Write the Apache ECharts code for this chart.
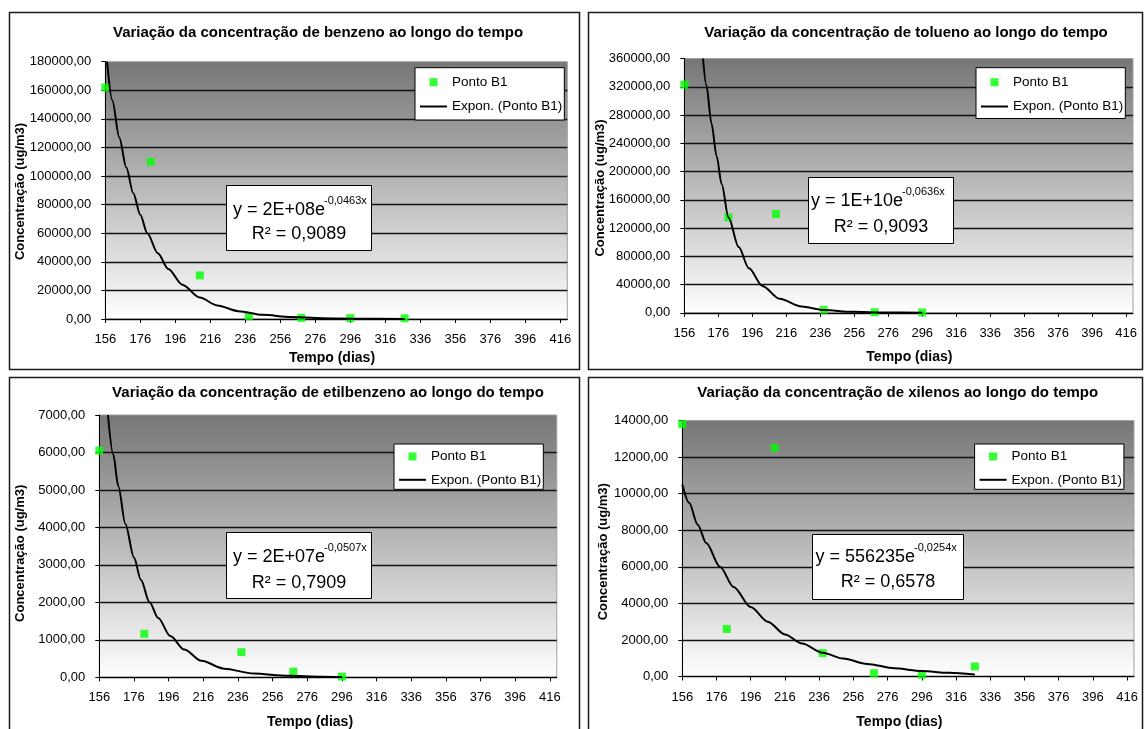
<!DOCTYPE html>
<html><head><meta charset="utf-8">
<script src="https://cdn.jsdelivr.net/npm/echarts@6/dist/echarts.min.js"></script>
<style>html,body{margin:0;padding:0;background:#fff}#c{width:1146px;height:729px}</style>
</head><body><div id="c"></div>
<script>
// ---------- data ----------
const xTickLabels = [156,176,196,216,236,256,276,296,316,336,356,376,396,416];

// Benzeno
const benzenoDays = [156,182,210,238,268,296,327];
const benzenoConc = [162000,110000,30500,2000,800,600,500];
const benzenoTrendDays = [157,160,164,168,172,176,180,186,192,200,210,220,232,246,262,280,300,327];
const benzenoTrendConc = [180000,153000,127000,106000,88000,73000,60000,46000,35000,24000,15000,9500,5500,2900,1400,600,250,80];

// Tolueno
const toluenoDays = [156,182,210,238,268,296];
const toluenoConc = [323000,135000,140000,4300,800,500];
const toluenoTrendDays = [167,169,172,175,178,182,188,194,202,212,225,238,255,275,296];
const toluenoTrendConc = [360000,322000,268000,222000,182000,135000,93000,63000,38000,20000,9000,4000,1400,400,120];

// Etilbenzeno
const etilDays = [156,182,238,268,296];
const etilConc = [6050,1160,670,150,20];
const etilTrendDays = [161,164,167,171,176,180,185,190,197,205,215,228,245,265,285,296];
const etilTrendConc = [7000,5950,5100,4100,3200,2600,2000,1580,1100,740,440,230,100,40,15,8];

// Xilenos
const xilDays = [156,182,210,238,268,296,327];
const xilConc = [13800,2600,12500,1280,180,100,550];
const xilTrendDays = [156,160,165,170,178,186,196,206,216,226,238,250,264,280,296,312,327];
const xilTrendConc = [10500,9500,8300,7300,6000,4900,3800,3000,2300,1800,1300,980,690,450,300,200,110];

const titles = [
  'Variação da concentração de benzeno ao longo do tempo',
  'Variação da concentração de tolueno ao longo do tempo',
  'Variação da concentração de etilbenzeno ao longo do tempo',
  'Variação da concentração de xilenos ao longo do tempo'
];
const eqMain = ['y = 2E+08e', 'y = 1E+10e', 'y = 2E+07e', 'y = 556235e'];
const eqExp = ['-0,0463x', '-0,0636x', '-0,0507x', '-0,0254x'];
const eqR2 = ['R² = 0,9089', 'R² = 0,9093', 'R² = 0,7909', 'R² = 0,6578'];
const yMax = [180000, 360000, 7000, 14000];
const yInterval = [20000, 40000, 1000, 2000];
const yName = 'Concentração (ug/m3)';
const xName = 'Tempo (dias)';
const scatterName = 'Ponto B1';
const trendName = 'Expon. (Ponto B1)';

// ---------- layout ----------
const FF = '"Liberation Sans", Arial, sans-serif';
const grids = [
  {left:105.3, top:61.7, right:567.3, bottom:319},
  {left:684.3, top:58.5, right:1133, bottom:312.8},
  {left:99.3,  top:415,  right:556.8, bottom:677.3},
  {left:682.3, top:420.5, right:1134, bottom:676.5}
];
const panels = [
  {x:9.5, y:12.5, w:570, h:357},
  {x:588.5, y:12.5, w:554, h:357},
  {x:9.5, y:377.5, w:570, h:360},
  {x:588.5, y:377.5, w:554, h:360}
];
const titlePos = [[318,33.3],[906,33.3],[328,392.7],[897.7,392.7]];
const yNamePos = [[20,191.5],[600,188],[20,553.3],[603.5,551.7]];
const xNamePos = [[332,358.3],[909.4,356.7],[310,721.7],[899.4,721.7]];
// box, line centres, junction between base text and exponent
const eqBox = [
  {x:226.5, y:185.5, w:145, h:65, l1:210, l2:233.7, cx:299, j:325},
  {x:808.5, y:177.5, w:145, h:66, l1:201, l2:226.7, cx:881, j:903},
  {x:226.5, y:532.5, w:145, h:66, l1:556.7, l2:583.3, cx:299, j:325},
  {x:812.5, y:534.5, w:151, h:65, l1:556.7, l2:581.7, cx:888, j:915}
];
const legendPos = [
  {left:415, top:67.7, padding:[7.5,2,6.5,5], gap:10.3},
  {left:976, top:67.7, padding:[7.5,2,5,5], gap:10.3},
  {left:394, top:444, padding:[5.5,2,2.5,5], gap:9.3},
  {left:974.6, top:444, padding:[5.5,2,2.5,5], gap:9.3}
];

const zip = (a,b) => a.map((v,i)=>[v,b[i]]);
const sets = [
  [benzenoDays, benzenoConc, benzenoTrendDays, benzenoTrendConc],
  [toluenoDays, toluenoConc, toluenoTrendDays, toluenoTrendConc],
  [etilDays, etilConc, etilTrendDays, etilTrendConc],
  [xilDays, xilConc, xilTrendDays, xilTrendConc]
];

const grid = [], xAxis = [], yAxis = [], series = [], legend = [], graphic = [];
for (let i = 0; i < 4; i++) {
  const g = grids[i];
  grid.push({
    left:g.left, top:g.top, width:g.right-g.left, height:g.bottom-g.top,
    containLabel:false, outerBoundsMode:'none',
    show:true, borderColor:'#a0a0a0', borderWidth:1,
    backgroundColor:{type:'linear', x:0, y:0, x2:0, y2:1,
      colorStops:[{offset:0,color:'#767676'},{offset:1,color:'#ffffff'}]}
  });
  xAxis.push({
    gridIndex:i, type:'value', min:156, max:420,
    axisLine:{show:true, onZero:false, lineStyle:{color:'#000', width:1}},
    axisTick:{show:true, customValues:xTickLabels, length:4, lineStyle:{color:'#000'}},
    axisLabel:{customValues:xTickLabels, margin:14, color:'#000', fontSize:13, fontFamily:FF},
    splitLine:{show:false}
  });
  yAxis.push({
    gridIndex:i, type:'value', min:0, max:yMax[i], interval:yInterval[i],
    axisLine:{show:true, lineStyle:{color:'#000', width:1}},
    axisTick:{show:true, length:4, lineStyle:{color:'#000'}},
    axisLabel:{margin:14, color:'#000', fontSize:13, fontFamily:FF,
      formatter: v => v.toFixed(2).replace('.', ',')},
    splitLine:{show:true, showMaxLine:false, lineStyle:{color:'#111', width:1.3}}
  });
  const s = sets[i];
  series.push({
    name:scatterName, type:'scatter', xAxisIndex:i, yAxisIndex:i,
    data: zip(s[0], s[1]), symbol:'rect', symbolSize:8,
    itemStyle:{color:'#00ff00'}, z:2
  });
  series.push({
    name:trendName, type:'line', xAxisIndex:i, yAxisIndex:i,
    data: zip(s[2], s[3]), symbol:'none', showSymbol:false,
    smooth:0.3, smoothMonotone:'x',
    lineStyle:{color:'#000', width:2}, itemStyle:{color:'#000'}, z:3
  });
  const lp = legendPos[i];
  legend.push({
    left:lp.left, top:lp.top, orient:'vertical', padding:lp.padding, itemGap:lp.gap,
    itemWidth:27, itemHeight:8, selectedMode:false, symbolKeepAspect:true,
    backgroundColor:'#fff', borderColor:'#000', borderWidth:1, borderRadius:0,
    textStyle:{color:'#000', fontSize:13.5, fontFamily:FF},
    data:[
      {name:scatterName, icon:'path://M0,0L8,0L8,8L0,8Z', itemStyle:{color:'#00ff00'}},
      {name:trendName, icon:'path://M0,0L27,0L27,2L0,2Z', itemStyle:{color:'#000'}}
    ]
  });
  // panel border
  const p = panels[i];
  graphic.push({type:'rect', shape:{x:p.x, y:p.y, width:p.w, height:p.h},
    style:{fill:null, stroke:'#1a1a1a', lineWidth:1.5}, z:0, silent:true});
  // title
  graphic.push({type:'text', x:titlePos[i][0], y:titlePos[i][1], z:10,
    style:{text:titles[i], fill:'#000', font:'bold 15px ' + FF, align:'center', verticalAlign:'middle'}});
  // axis names
  graphic.push({type:'text', x:yNamePos[i][0], y:yNamePos[i][1], rotation:Math.PI/2, z:10,
    style:{text:yName, fill:'#000', font:'bold 13px ' + FF, align:'center', verticalAlign:'middle'}});
  graphic.push({type:'text', x:xNamePos[i][0], y:xNamePos[i][1], z:10,
    style:{text:xName, fill:'#000', font:'bold 14px ' + FF, align:'center', verticalAlign:'middle'}});
  // equation box
  const e = eqBox[i];
  graphic.push({type:'rect', shape:{x:e.x, y:e.y, width:e.w, height:e.h}, z:20,
    style:{fill:'#fff', stroke:'#000', lineWidth:1}});
  graphic.push({type:'text', x:e.j, y:e.l1, z:21,
    style:{text:eqMain[i], fill:'#000', font:'18px ' + FF, align:'right', verticalAlign:'middle'}});
  graphic.push({type:'text', x:e.j - 1, y:e.l1 - 9, z:21,
    style:{text:eqExp[i], fill:'#000', font:'11px ' + FF, align:'left', verticalAlign:'middle'}});
  graphic.push({type:'text', x:e.cx, y:e.l2, z:21,
    style:{text:eqR2[i], fill:'#000', font:'18px ' + FF, align:'center', verticalAlign:'middle'}});
}

const chart = echarts.init(document.getElementById('c'), null, {renderer:'canvas'});
chart.setOption({
  animation:false,
  backgroundColor:'#fff',
  textStyle:{fontFamily:FF},
  grid, xAxis, yAxis, series, legend, graphic
});
</script>
</body></html>
